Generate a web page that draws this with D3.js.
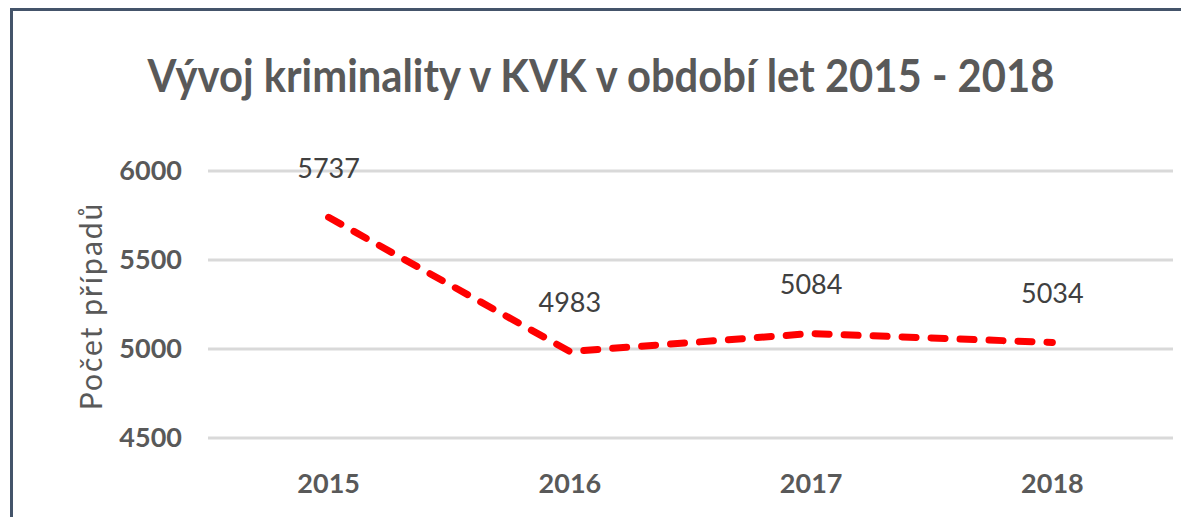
<!DOCTYPE html>
<html>
<head>
<meta charset="utf-8">
<script src="https://cdn.jsdelivr.net/npm/d3@7"></script>
<style>
  body { margin: 0; background: #fff; }
  svg { display: block; }
</style>
</head>
<body>
<svg id="chart" width="1181" height="517"></svg>
<script>
var years = ["2015", "2016", "2017", "2018"]
var cases = [5737, 4983, 5084, 5034]
var yTicks = [4500, 5000, 5500, 6000]

var svg = d3.select("#chart")
var width = 1181, height = 517
var margin = {top: 170, right: 8, bottom: 80, left: 208}

var x = d3.scaleBand()
          .domain(years)
          .range([margin.left, width - margin.right])

var y = d3.scaleLinear()
          .domain([4500, 6000])
          .range([437.5, 170.5])

// frame (top and left edge only, like the cropped original)
svg.append("path")
    .attr("d", "M11.5,517 L11.5,9.5 L1181,9.5")
    .attr("fill", "none")
    .attr("stroke", "#44546a")
    .attr("stroke-width", 3)

// grid
var yAxis = d3.axisLeft(y)
              .tickValues(yTicks)
              .tickSize(-(width - margin.right - margin.left))
              .tickPadding(26)
              .tickFormat(d3.format("d"))

var gy = svg.append("g")
    .attr("transform", "translate(" + margin.left + ",0)")
    .call(yAxis)
gy.select(".domain").remove()
gy.selectAll(".tick line")
    .attr("stroke", "#d9d9d9")
    .attr("stroke-width", 3)
gy.selectAll(".tick text")
    .attr("fill", "#595959")
    .attr("font-family", "Lato")
    .attr("font-weight", "bold")
    .attr("font-size", 27)

var xAxis = d3.axisBottom(x).tickSize(0).tickPadding(0)
var gx = svg.append("g")
    .attr("transform", "translate(0,474)")
    .call(xAxis)
gx.select(".domain").remove()
gx.selectAll(".tick text")
    .attr("dy", "0.71em")
    .attr("fill", "#595959")
    .attr("font-family", "Lato")
    .attr("font-weight", "bold")
    .attr("font-size", 27)

// line
var line = d3.line()
             .x(function(d, i){ return x(years[i]) + x.bandwidth() / 2 })
             .y(function(d){ return y(d) })

svg.append("path")
    .datum(cases)
    .attr("d", line)
    .attr("fill", "none")
    .attr("stroke", "#ff0000")
    .attr("stroke-width", 7)
    .attr("stroke-linecap", "round")
    .attr("stroke-dasharray", "14 15")

// data labels
svg.selectAll("labels")
    .data(cases).enter()
    .append("text")
        .attr("x", function(d, i){ return x(years[i]) + x.bandwidth() / 2 })
        .attr("y", function(d){ return y(d) - 49 })
        .attr("dy", "0.36em")
        .attr("text-anchor", "middle")
        .attr("fill", "#404040")
        .attr("font-family", "Lato")
        .attr("font-size", 27)
        .text(function(d){ return d })

// axis title
svg.append("text")
    .attr("transform", "translate(102,306) rotate(-90)")
    .attr("text-anchor", "middle")
    .attr("fill", "#595959")
    .attr("font-family", "Lato")
    .attr("font-size", 30)
    .attr("letter-spacing", 2)
    .text("Počet případů")

// title
svg.append("text")
    .attr("x", 601)
    .attr("y", 92)
    .attr("text-anchor", "middle")
    .attr("fill", "#595959")
    .attr("font-family", "Lato")
    .attr("font-weight", "bold")
    .attr("font-size", 46)
    .attr("textLength", 907)
    .attr("lengthAdjust", "spacingAndGlyphs")
    .text("Vývoj kriminality v KVK v období let 2015 - 2018")
</script>
</body>
</html>
